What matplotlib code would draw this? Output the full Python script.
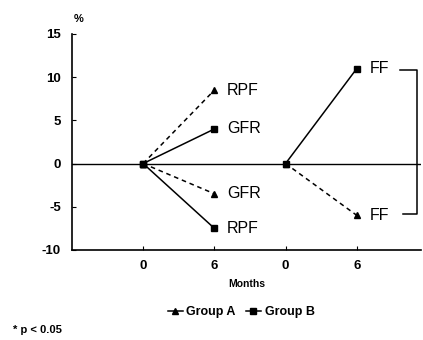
import matplotlib.pyplot as plt
from matplotlib.lines import Line2D

plt.rcParams['font.family'] = ['Liberation Sans', 'DejaVu Sans']
plt.rcParams['axes.unicode_minus'] = False

# panel positions: months 0 / 6 for renal and filtration fraction
x_ticks = [1, 2, 3, 4]
x_labels = ['0', '6', '0', '6']

# Group A (triangles, dashed)
a_rpf = [0, 8.5]
a_gfr = [0, -3.5]
a_ff = [0, -6]
# Group B (squares, solid)
b_gfr = [0, 4]
b_rpf = [0, -7.5]
b_ff = [0, 11]

fig = plt.figure(figsize=(4.23, 3.40), dpi=100)
ax = fig.add_axes([0.170, 0.265, 0.825, 0.635])

ax.axhline(0, color='black', lw=1.0, zorder=1)

kw_a = dict(color='black', ls=(0, (3, 2.5)), lw=1.1, marker='^', ms=5)
kw_b = dict(color='black', ls='-', lw=1.1, marker='s', ms=4)

ax.plot([1, 2], a_rpf, **kw_a)
ax.plot([1, 2], a_gfr, **kw_a)
ax.plot([3, 4], a_ff, **kw_a)
ax.plot([1, 2], b_gfr, **kw_b)
ax.plot([1, 2], b_rpf, **kw_b)
ax.plot([3, 4], b_ff, **kw_b)

lab = dict(fontsize=11.5, va='center', ha='left')
ax.text(2.18, a_rpf[1], 'RPF', **lab)
ax.text(2.18, b_gfr[1], 'GFR', **lab)
ax.text(2.18, a_gfr[1], 'GFR', **lab)
ax.text(2.18, b_rpf[1], 'RPF', **lab)
ax.text(4.18, b_ff[1], 'FF', **lab)
ax.text(4.18, a_ff[1], 'FF', **lab)

# significance bracket
ax.plot([4.6, 4.85, 4.85, 4.65], [10.8, 10.8, -5.8, -5.8],
        color='black', lw=1.1, clip_on=False)

ax.set_xlim(0, 4.9)
ax.set_ylim(-10, 15)
ax.set_yticks([-10, -5, 0, 5, 10, 15])
ax.set_xticks(x_ticks)
ax.set_xticklabels(x_labels)
ax.tick_params(direction='in', length=3, labelsize=9.5, pad=8)
ax.tick_params(axis='x', pad=7)
for t in ax.get_xticklabels() + ax.get_yticklabels():
    t.set_fontweight('bold')
ax.spines['top'].set_visible(False)
ax.spines['right'].set_visible(False)
for s in ['left', 'bottom']:
    ax.spines[s].set_linewidth(1.2)

ax.set_xlabel('Months', fontsize=7.5, fontweight='bold', labelpad=5)
fig.text(0.185, 0.945, '%', fontsize=8, fontweight='bold', ha='center', va='center')

handles = [Line2D([], [], color='black', lw=1.1, marker='^', ms=5),
           Line2D([], [], color='black', lw=1.1, marker='s', ms=4)]
fig.legend(handles, ['Group A', 'Group B'], loc='center', bbox_to_anchor=(0.57, 0.082),
           ncol=2, frameon=False, handlelength=1.2, handletextpad=0.3,
           columnspacing=0.8, prop={'size': 9, 'weight': 'bold'})

fig.text(0.03, 0.028, '* p < 0.05', fontsize=8, fontweight='bold', ha='left', va='center')

plt.savefig('out.png', dpi=100)
